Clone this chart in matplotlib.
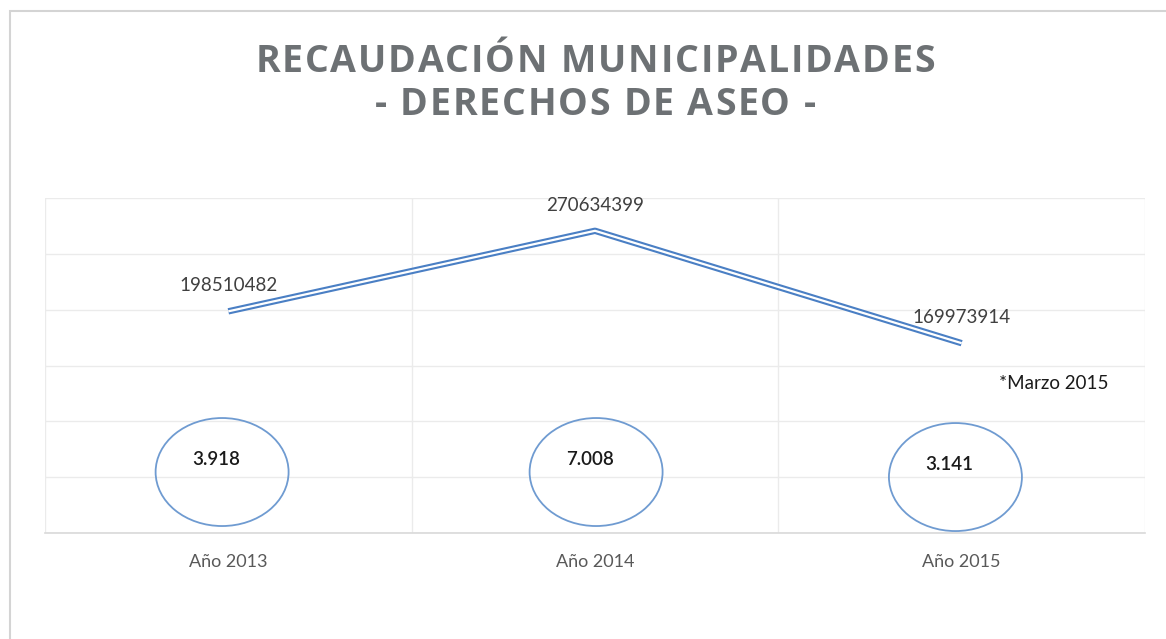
import matplotlib
matplotlib.use("Agg")
import matplotlib.pyplot as plt
from matplotlib.patches import Ellipse, Rectangle
from matplotlib import font_manager
from matplotlib.font_manager import FontProperties, get_font

# ---- data ----
categories = ["Año 2013", "Año 2014", "Año 2015"]
recaudacion = [198510482, 270634399, 169973914]
circle_values = ["3.918", "7.008", "3.141"]
title_lines = ["RECAUDACIÓN MUNICIPALIDADES", "- DERECHOS DE ASEO -"]
note = "*Marzo 2015"

W, H = 1166, 639
DPI = 100
fig = plt.figure(figsize=(W / DPI, H / DPI), dpi=DPI)
fig.patch.set_facecolor("white")

# outer chart border
fig.add_artist(Rectangle((10 / W, -0.1), 1.2, 1 - 11 / H + 0.1, transform=fig.transFigure,
                         fill=False, edgecolor="#d4d4d4", linewidth=1.5))

ax = fig.add_axes([45 / W, 1 - 533 / H, (1145 - 45) / W, (533 - 198) / H])
x = list(range(len(categories)))
ax.set_xlim(-0.5, len(categories) - 0.5)
ax.set_ylim(0, 300_000_000)
ax.set_yticks([i * 50_000_000 for i in range(7)])
ax.set_yticklabels([])
ax.tick_params(axis="y", length=0)
ax.set_xticks(x)
ax.set_xticklabels(categories, fontfamily="Lato", fontsize=13, color="#595959")
ax.tick_params(axis="x", length=0, pad=15)
ax.set_xticks([-0.5, 0.5, 1.5, 2.5], minor=True)
ax.tick_params(axis="x", which="minor", length=0)
ax.grid(axis="y", color="#ebebeb", linewidth=1)
ax.grid(axis="x", which="minor", color="#ebebeb", linewidth=1)
ax.grid(axis="x", which="major", visible=False)
for s in ["top", "left", "right"]:
    ax.spines[s].set_visible(False)
ax.spines["bottom"].set_color("#d9d9d9")
ax.spines["bottom"].set_linewidth(1.2)
ax.set_axisbelow(True)

# double line
ax.plot(x, recaudacion, color="#4a7fc4", linewidth=4.6, solid_capstyle="butt", zorder=3)
ax.plot(x, recaudacion, color="white", linewidth=1.6, solid_capstyle="butt", zorder=4)

for xi, v in zip(x, recaudacion):
    ax.annotate(str(v), (xi, v), xytext=(0, 18.5), textcoords="offset points",
                ha="center", va="center", fontfamily="Lato", fontsize=13.5, color="#404040")

# ellipses with numbers
ell_y = [54_600_000, 54_600_000, 50_100_000]
ell_dx = [-0.017, 0.003, -0.017]
ell_w = 133 / 366.7
ell_h = 108 / 335 * 300_000_000
for xi, yc, dx, lab in zip(x, ell_y, ell_dx, circle_values):
    ax.add_patch(Ellipse((xi + dx, yc), ell_w, ell_h, fill=False,
                         edgecolor="#6f9bd1", linewidth=1.3, zorder=5))
    ax.text(xi + dx - 0.016, yc + 11_500_000, lab, ha="center", va="center",
            fontfamily="Lato", fontsize=13.5, color="#1a1a1a", fontweight="semibold", zorder=6)

ax.text(2.25, 134_000_000, note, ha="center", va="center",
        fontfamily="Lato", fontsize=13.5, color="#1a1a1a")

# title with letter spacing: each character placed at its pen position + tracking
TITLE_SIZE = 27
TRACK_PX = 1.8
tprop = FontProperties(family="Open Sans", weight="bold", size=TITLE_SIZE)
tfont = get_font(font_manager.findfont(tprop))
tfont.set_size(TITLE_SIZE, DPI)

def advance(c):
    g = tfont.load_char(ord(c))
    return g.linearHoriAdvance / 65536.0

for line, base_px in zip(title_lines, [72, 115]):
    advs = [advance(c) for c in line]
    total = sum(advs) + TRACK_PX * (len(line) - 1)
    pen = 595 - total / 2
    for c, adv in zip(line, advs):
        if c != " ":
            fig.text(pen / W, 1 - base_px / H, c, ha="left", va="baseline",
                     fontproperties=tprop, color="#6d7174")
        pen += adv + TRACK_PX

fig.savefig("out.png", dpi=DPI, facecolor="white")
